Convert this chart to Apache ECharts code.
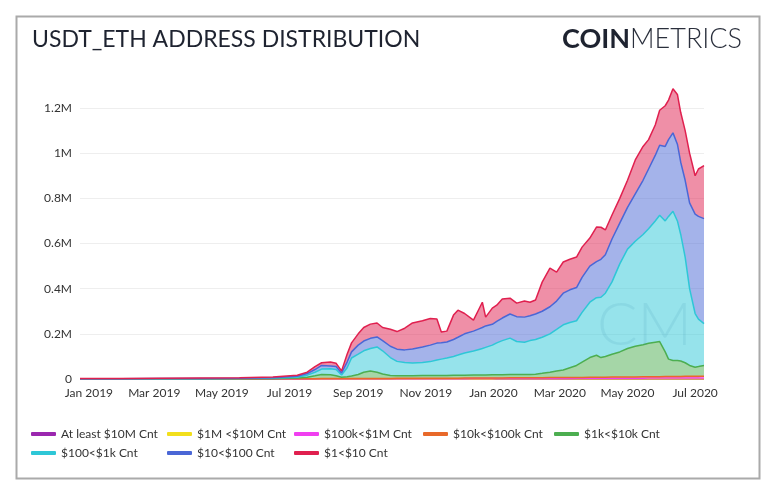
<!DOCTYPE html>
<html>
<head>
<meta charset="utf-8">
<script src="https://cdn.jsdelivr.net/npm/echarts@6/dist/echarts.min.js"></script>
<style>html,body{margin:0;padding:0;background:#fff;}#chart{width:768px;height:480px;}</style>
</head>
<body>
<div id="chart"></div>
<script>
// Sample dates
var dates = ['2018-12-24','2019-01-29','2019-03-06','2019-04-11','2019-05-17','2019-06-16','2019-07-08','2019-07-17','2019-07-24','2019-07-30',
'2019-08-07','2019-08-12','2019-08-17','2019-08-22','2019-08-26','2019-09-01','2019-09-06','2019-09-12','2019-09-18','2019-09-23',
'2019-09-30','2019-10-06','2019-10-13','2019-10-20','2019-10-29','2019-11-05','2019-11-11','2019-11-15','2019-11-20','2019-11-26',
'2019-11-30','2019-12-06','2019-12-14','2019-12-19','2019-12-22','2019-12-25','2019-12-31','2020-01-04','2020-01-09','2020-01-16',
'2020-01-22','2020-01-29','2020-02-03','2020-02-08','2020-02-14','2020-02-21','2020-02-27','2020-03-04','2020-03-10','2020-03-16',
'2020-03-21','2020-03-28','2020-04-03','2020-04-07','2020-04-11','2020-04-17','2020-04-24','2020-05-01','2020-05-08','2020-05-15',
'2020-05-20','2020-05-26','2020-05-30','2020-06-04','2020-06-07','2020-06-11','2020-06-15','2020-06-18','2020-06-22','2020-06-26',
'2020-07-01','2020-07-04','2020-07-09'];

// Address counts per band, in thousands
var atLeast10M = [0.015,0.015,0.015,0.016,0.017,0.02,0.03,0.04,0.04,0.05,
0.05,0.05,0.05,0.05,0.06,0.06,0.06,0.07,0.07,0.07,
0.07,0.08,0.08,0.08,0.09,0.09,0.09,0.1,0.1,0.1,
0.1,0.11,0.11,0.11,0.12,0.12,0.12,0.13,0.13,0.14,
0.14,0.14,0.15,0.15,0.16,0.16,0.17,0.17,0.18,0.18,
0.19,0.19,0.2,0.2,0.21,0.21,0.22,0.22,0.23,0.24,
0.24,0.25,0.25,0.26,0.26,0.27,0.27,0.28,0.28,0.29,
0.29,0.3,0.3];
var from1Mto10M = [0.035,0.035,0.036,0.038,0.042,0.06,0.09,0.12,0.14,0.16,
0.16,0.17,0.17,0.18,0.19,0.2,0.21,0.22,0.23,0.23,
0.24,0.25,0.26,0.27,0.29,0.3,0.31,0.32,0.33,0.34,
0.35,0.36,0.38,0.39,0.4,0.4,0.41,0.43,0.45,0.47,
0.48,0.5,0.5,0.52,0.54,0.56,0.58,0.59,0.61,0.63,
0.65,0.68,0.7,0.72,0.74,0.77,0.79,0.82,0.85,0.87,
0.9,0.93,0.95,0.97,0.99,1.01,1.03,1.04,1.06,1.08,
1.1,1.12,1.13];
var from100kto1M = [0.09,0.09,0.09,0.10,0.11,0.16,0.28,0.36,0.42,0.48,
0.50,0.53,0.53,0.56,0.59,0.62,0.64,0.67,0.70,0.73,
0.76,0.78,0.81,0.84,0.90,0.92,0.98,1.0,1.04,1.06,
1.09,1.12,1.18,1.2,1.23,1.26,1.29,1.34,1.4,1.46,
1.48,1.54,1.57,1.62,1.68,1.74,1.79,1.85,1.9,1.96,
2.0,2.1,2.18,2.24,2.3,2.38,2.46,2.55,2.63,2.72,
2.8,2.88,2.94,3.02,3.08,3.14,3.19,3.25,3.3,3.36,
3.42,3.47,3.53];
var from10kto100k = [0.20,0.21,0.22,0.23,0.25,0.36,0.60,0.78,0.90,1.0,
1.1,1.1,1.1,1.2,1.3,1.3,1.4,1.4,1.5,1.6,
1.6,1.7,1.7,1.8,1.9,2.0,2.1,2.2,2.2,2.3,
2.3,2.4,2.5,2.6,2.6,2.7,2.8,2.9,3.0,3.1,
3.2,3.3,3.4,3.5,3.6,3.7,3.8,4.0,4.1,4.2,
4.3,4.5,4.7,4.8,4.9,5.1,5.3,5.5,5.6,5.8,
6.0,6.2,6.3,6.5,6.6,6.7,6.8,7.0,7.1,7.2,
7.3,7.4,7.6];
var from1kto10k = [0.26,0.3,0.34,0.42,0.58,1.0,3.0,6.7,12.5,18.3,
17.2,12.1,6.1,8.0,10.9,17.8,27.7,32.6,27.5,19.4,
13.3,11.2,11.1,11.0,11.8,11.7,12.5,12.4,12.3,13.2,
13.1,13.0,13.8,13.7,13.6,13.5,14.4,14.2,14.0,14.8,
14.7,14.5,14.4,15.2,19.0,23.8,28.6,33.4,43.2,53.0,
67.8,87.5,97.2,87.0,91.8,101.5,111.2,125.9,135.6,142.3,
148.0,152.7,155.5,109.2,77.0,70.8,70.6,68.4,60.2,48.0,
39.8,42.6,47.4];
var from100to1k = [0.3,0.45,0.6,0.8,1.1,2.4,4,9,16,24,
26,28,10,40,80,90,95,100,112,103,
79,64,59,57,58,62,68,72,77,83,
89,98,106,113,117,122,131,141,151,161,
146,143,150,154,160,170,185,200,200,198,
220,245,255,267,280,320,390,440,465,488,
507,537,559,580,632,661,618,560,468,340,
238,210,185];
var from10to100 = [0.4,0.5,0.6,0.8,1.1,2,4,7,12,16,
13,13,9,25,27,40,43,45,44,45,
50,54,56,62,69,73,75,73,71,75,
79,85,88,91,93,95,92,95,100,107,
110,111,110,113,115,120,125,140,145,147,
155,160,160,168,170,190,180,185,210,240,
265,290,310,330,340,347,340,320,340,380,
440,455,465];
var from1to10 = [0.9,1.1,1.2,1.6,2.1,3,5,6,13,12,
17,15,9,35,40,50,60,63,62,58,
75,78,96,115,116,118,107,47,48,108,
120,90,49,88,112,39,72,72,84,70,
60,71,60,62,129,171,128,138,135,135,
134,124,153,142,110,106,110,120,150,150,
130,135,155,180,175,195,220,220,220,220,
170,210,235];

var seriesNames = ['At least $10M Cnt','$1M <$10M Cnt','$100k<$1M Cnt','$10k<$100k Cnt','$1k<$10k Cnt','$100<$1k Cnt','$10<$100 Cnt','$1<$10 Cnt'];
var seriesValues = [atLeast10M, from1Mto10M, from100kto1M, from10kto100k, from1kto10k, from100to1k, from10to100, from1to10];
var seriesColors = ['#9b27af','#f2df1c','#f03ff0','#e8692a','#4cae50','#2ec7d7','#4a67d6','#e0204f'];

var monthNames = ['Jan','Feb','Mar','Apr','May','Jun','Jul','Aug','Sep','Oct','Nov','Dec'];
var yTicks = [0, 200000, 400000, 600000, 800000, 1000000, 1200000];

var legendPos = [[31,428],[167,428],[294,428],[423,428],[554,428],[31,447],[167,447],[294,447]];

var chart = echarts.init(document.getElementById('chart'));
var FONT = 'Lato';
var DAY = 86400000;

var series = seriesNames.map(function (name, i) {
  return {
    name: name,
    type: 'line',
    stack: 'total',
    clip: false,
    showSymbol: false,
    symbol: 'none',
    color: seriesColors[i],
    itemStyle: { color: seriesColors[i] },
    lineStyle: { color: seriesColors[i], width: 1.5 },
    areaStyle: { color: seriesColors[i], opacity: 0.5 },
    emphasis: { disabled: true },
    data: dates.map(function (d, j) { return [d, seriesValues[i][j] * 1000]; })
  };
});

var legends = seriesNames.map(function (name, i) {
  return {
    data: [name],
    left: legendPos[i][0],
    top: legendPos[i][1],
    padding: 0,
    icon: 'roundRect',
    itemWidth: 25,
    itemHeight: 4,
    itemGap: 0,
    textStyle: { fontFamily: FONT, fontSize: 12, color: '#333' }
  };
});

chart.setOption({
  animation: false,
  backgroundColor: '#fff',
  textStyle: { fontFamily: FONT },
  title: [{
    text: 'USDT_ETH ADDRESS DISTRIBUTION',
    left: 27, top: 23,
    textStyle: { fontFamily: FONT, fontSize: 23, fontWeight: 'normal', color: '#1e2330' }
  }, {
    text: '{a|COIN}{b|METRICS}',
    right: 21, top: 21,
    textStyle: {
      rich: {
        a: { fontFamily: FONT, fontSize: 27, fontWeight: 'bold', color: '#1e2330' },
        b: { fontFamily: FONT, fontSize: 27, fontWeight: 300, color: '#2a2f3c' }
      }
    }
  }],
  legend: legends,
  grid: { left: 80, right: 64, top: 108, bottom: 101, containLabel: false },
  xAxis: {
    type: 'time',
    min: dates[0],
    max: dates[dates.length - 1],
    minInterval: 75 * DAY,
    maxInterval: 75 * DAY,
    axisLine: { show: false },
    axisTick: { show: false },
    splitLine: { show: false },
    axisLabel: {
      showMinLabel: false,
      showMaxLabel: false,
      formatter: function (v) {
        var d = new Date(v);
        return monthNames[d.getMonth()] + ' ' + d.getFullYear();
      },
      fontFamily: FONT, fontSize: 12, color: '#333', margin: 8
    }
  },
  yAxis: {
    type: 'value',
    min: yTicks[0],
    max: yTicks[yTicks.length - 1],
    interval: 200000,
    axisLine: { show: false },
    axisTick: { show: false },
    splitLine: { lineStyle: { color: '#eeeeee', width: 1 } },
    axisLabel: {
      formatter: function (v) { return v === 0 ? '0' : (v / 1000000) + 'M'; },
      fontFamily: FONT, fontSize: 12, color: '#333', margin: 8
    }
  },
  graphic: [{
    type: 'rect',
    left: 14, top: 14,
    shape: { width: 743, height: 462 },
    style: { fill: 'none', stroke: '#aaaaaa', lineWidth: 2 },
    silent: true, z: 0
  }, {
    type: 'text',
    left: 597, top: 296,
    style: { text: 'CM', fontFamily: FONT, fontSize: 60, fontWeight: 300, fill: 'rgba(60,150,175,0.13)' },
    silent: true, z: 100
  }],
  series: series
});
</script>
</body>
</html>
